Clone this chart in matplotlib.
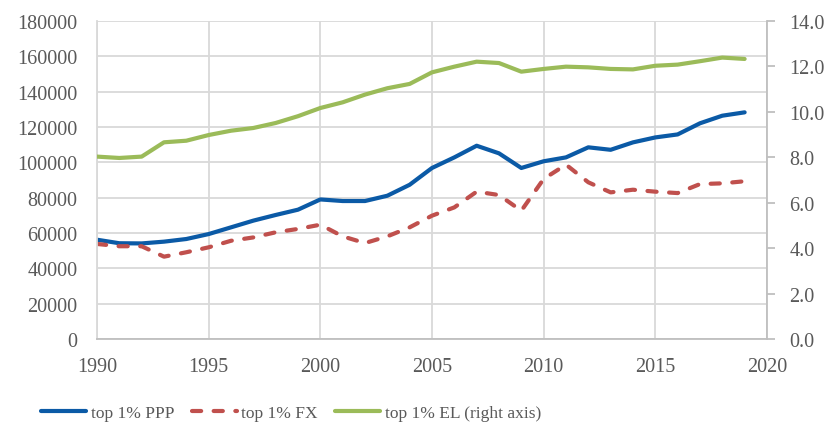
import numpy as np
import matplotlib.pyplot as plt

plt.rcParams['font.family'] = ['Liberation Serif', 'DejaVu Serif']

years = np.arange(1990, 2020)

# top 1% income, PPP (left axis)
ppp = [56200, 54200, 54100, 55100, 56600, 59400, 63200, 67000, 70200, 73200,
       79000, 78100, 78100, 81100, 87300, 96800, 102800, 109400, 105100, 96800,
       100600, 102800, 108500, 107100, 111300, 114100, 115800, 122100, 126400, 128300]

# top 1% income, market exchange rates (left axis)
fx = [53800, 52500, 52500, 46600, 49100, 51900, 55600, 57500, 60400, 62300,
      64700, 58100, 54300, 58100, 63200, 69800, 74500, 83400, 81500, 72600,
      90600, 98700, 88700, 83000, 84500, 83400, 82600, 87700, 88100, 89300]

# top 1% EL (right axis)
el = [8.03, 7.97, 8.03, 8.66, 8.73, 8.98, 9.17, 9.29, 9.51, 9.81,
      10.17, 10.42, 10.76, 11.04, 11.23, 11.74, 11.99, 12.21, 12.15, 11.77,
      11.89, 11.99, 11.96, 11.89, 11.87, 12.03, 12.08, 12.23, 12.39, 12.33]

blue = '#0b5aa6'
red = '#c0504d'
green = '#9bbb59'
grey_txt = '#595959'
grid_c = '#d9d9d9'
spine_c = '#bfbfbf'

fig = plt.figure(figsize=(8.27, 4.35), dpi=100)
ax = fig.add_axes([0.1173, 0.2184, 0.8101, 0.731])
ax2 = ax.twinx()

l1, = ax.plot(years, ppp, color=blue, lw=3, solid_capstyle='round')
l2, = ax.plot(years, fx, color=red, lw=3, ls=(0, (2.2, 3)), dash_capstyle='round')
l3, = ax2.plot(years, el, color=green, lw=3, solid_capstyle='round')

ax.set_xlim(1990, 2020)
ax.set_ylim(0, 180000)
ax2.set_ylim(0, 14)
ax.set_xticks(np.arange(1990, 2021, 5))
ax.set_yticks(np.arange(0, 180001, 20000))
ax2.set_yticks(np.arange(0, 14.1, 2))
ax2.set_yticklabels([f'{v:.1f}' for v in np.arange(0, 14.1, 2)])

ax.grid(True, color=grid_c, lw=1.3)
ax.set_axisbelow(True)

for a in (ax, ax2):
    a.spines['top'].set_visible(False)
    a.tick_params(labelsize=14.5, colors=grey_txt)
ax.spines['left'].set_color(grid_c)
ax.spines['left'].set_linewidth(1.3)
ax.spines['bottom'].set_color(spine_c)
ax.spines['bottom'].set_linewidth(1.3)
ax.spines['right'].set_visible(False)
ax2.spines['left'].set_visible(False)
ax2.spines['bottom'].set_visible(False)
ax2.spines['right'].set_color(spine_c)
ax2.spines['right'].set_linewidth(1.3)

ax.tick_params(axis='y', length=0, pad=14)
ax.tick_params(axis='x', length=0, pad=13)
ax2.tick_params(axis='y', length=6, width=1.3, color=spine_c, pad=10)

fig.legend([l1, l2, l3], ['top 1% PPP', 'top 1% FX', 'top 1% EL (right axis)'],
           loc='center left', bbox_to_anchor=(0.05, 0.048), ncol=3, frameon=False,
           fontsize=12.5, labelcolor=grey_txt, handlelength=2.6,
           handletextpad=0.25, columnspacing=1.0, borderaxespad=0, borderpad=0)

fig.savefig('out.png', dpi=100)
